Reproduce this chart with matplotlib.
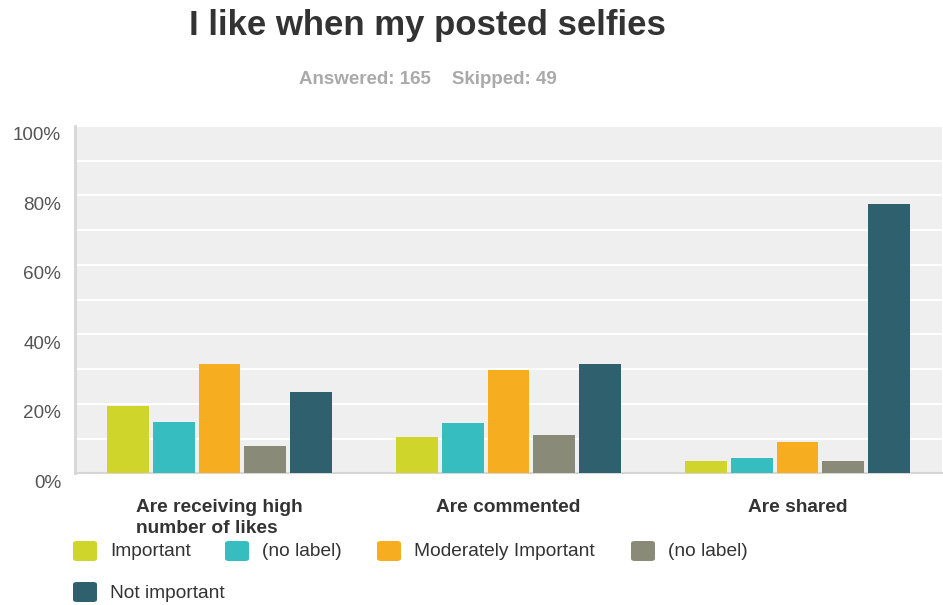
import numpy as np
import matplotlib.pyplot as plt
import matplotlib.transforms as mtransforms
from matplotlib.patches import FancyBboxPatch

plt.rcParams['font.family'] = ['Liberation Sans', 'DejaVu Sans']

# survey data (% of respondents)
categories = ["Are receiving high\nnumber of likes", "Are commented", "Are shared"]
series_names = ["Important", "(no label)", "Moderately Important", "(no label)", "Not important"]
important = [19.5, 10.4, 3.5]
no_label_1 = [14.9, 14.6, 4.5]
moderately = [31.4, 29.6, 9.0]
no_label_2 = [8.0, 11.0, 3.5]
not_important = [23.5, 31.4, 77.5]
series = [important, no_label_1, moderately, no_label_2, not_important]
colors = ["#cfd52a", "#35bdbf", "#f6ae20", "#8a8a78", "#2f606e"]
yticks = [0, 20, 40, 60, 80, 100]

fig = plt.figure(figsize=(9.43, 6.05), dpi=100)
ax = fig.add_axes([75 / 943, 131.7 / 605, 867 / 943, 347.3 / 605])
ax.set_facecolor("#efefef")

x = np.arange(len(categories))
pitch = 0.159
width = 0.145
for i, (vals, c) in enumerate(zip(series, colors)):
    ax.bar(x + (i - 2) * pitch, vals, width, color=c, zorder=3)

ax.set_xlim(-0.5, 2.5)
ax.set_ylim(0, 100)
ax.set_yticks(yticks)
ax.set_yticks(np.arange(10, 100, 20), minor=True)
ax.yaxis.grid(True, which="both", color="white", linewidth=1.5, zorder=0)
ax.set_yticklabels([f"{v}%" for v in yticks], fontsize=13.6, color="#555555")
ax.tick_params(axis="y", which="both", length=0, pad=10)
ax.set_xticks([])
off = mtransforms.ScaledTranslation(0, -8 / 100, fig.dpi_scale_trans)
for lab in ax.get_yticklabels():
    lab.set_transform(lab.get_transform() + off)

for s in ["top", "right"]:
    ax.spines[s].set_visible(False)
ax.spines["left"].set_color("#d6d6d6")
ax.spines["left"].set_linewidth(2)
ax.spines["bottom"].set_color("#d6d6d6")
ax.spines["bottom"].set_linewidth(1.5)

# category labels
for xi, cat in zip(x, categories):
    ax.text(xi, -7.3, cat, ha="center", va="top", multialignment="left",
            fontsize=13.8, fontweight="bold", color="#333333", linespacing=1.3)

# title and subtitle
fig.text(427 / 943, 1 - 26 / 605, "I like when my posted selfies", ha="center", va="center",
         fontsize=25, fontweight="bold", color="#333333")
fig.text(428 / 943, 1 - 79 / 605, "Answered: 165    Skipped: 49", ha="center", va="center",
         fontsize=13.5, fontweight="bold", color="#aaaaaa")

# legend drawn by hand to follow the original layout
legend_pos = [(73, 551), (225, 551), (377, 551), (631, 551), (73, 592)]
for (lx, ly), name, c in zip(legend_pos, series_names, colors):
    box = FancyBboxPatch((lx / 943, 1 - (ly + 10) / 605), 24 / 943, 20 / 605,
                         boxstyle="round,pad=0,rounding_size=0.004",
                         transform=fig.transFigure, facecolor=c, edgecolor="none")
    fig.patches.append(box)
    fig.text((lx + 37) / 943, 1 - (ly + 1) / 605, name, ha="left", va="center",
             fontsize=13.8, color="#333333")

fig.savefig("out.png", dpi=100, facecolor="white")
